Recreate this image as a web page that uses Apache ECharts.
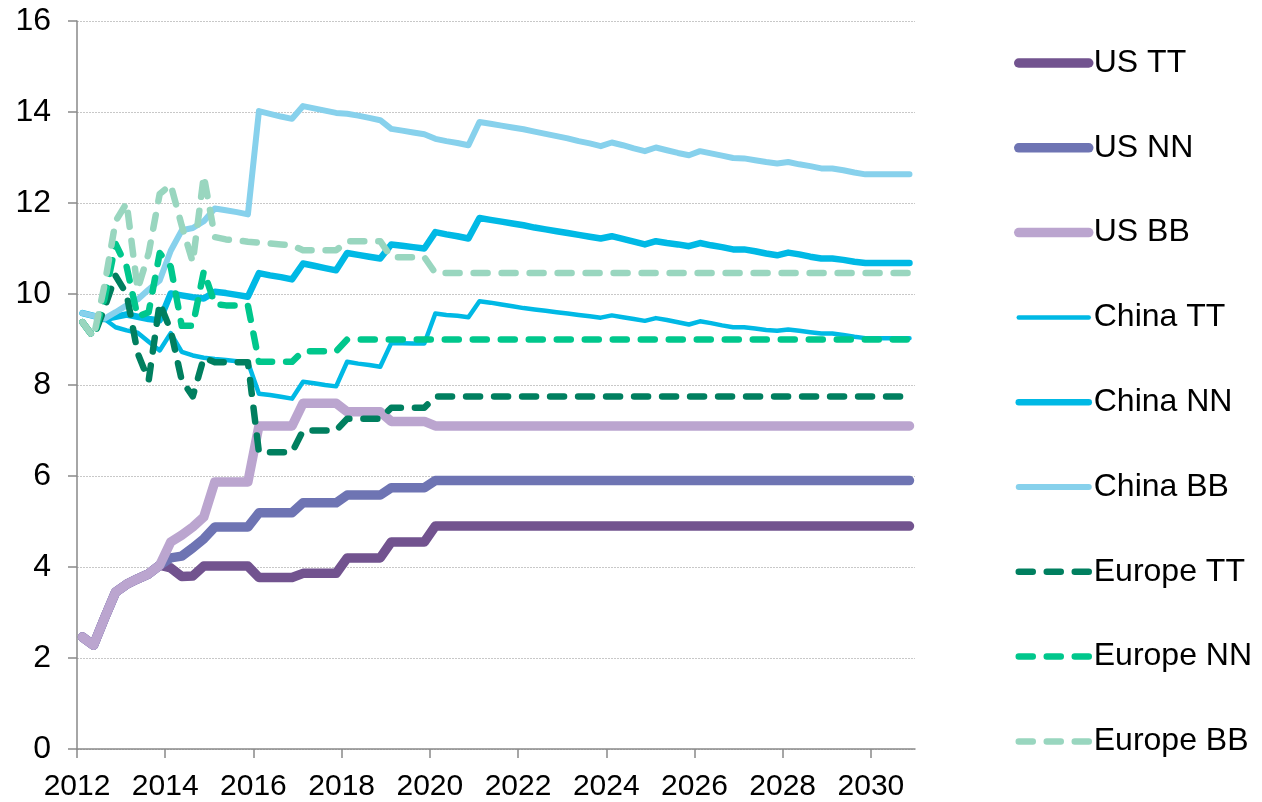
<!DOCTYPE html>
<html>
<head>
<meta charset="utf-8">
<script src="https://cdn.jsdelivr.net/npm/echarts@6/dist/echarts.min.js"></script>
<style>
  html, body { margin: 0; padding: 0; background: #fff; }
  #chart { width: 1262px; height: 802px; }
</style>
</head>
<body>
<div id="chart"></div>
<script>
// quarterly periods 2012Q1 .. 2030Q4
const years = [2012, 2013, 2014, 2015, 2016, 2017, 2018, 2019, 2020, 2021,
               2022, 2023, 2024, 2025, 2026, 2027, 2028, 2029, 2030];
const quarters = [];
years.forEach(y => { for (let q = 1; q <= 4; q++) quarters.push(y + 'Q' + q); });

const yearTicks = [2012, 2014, 2016, 2018, 2020, 2022, 2024, 2026, 2028, 2030];

const usTT = [
  2.46, 2.28, 2.88, 3.45, 3.62, 3.74, 3.85, 4.04,
  3.98, 3.79, 3.80, 4.02, 4.02, 4.02, 4.02, 4.02,
  3.77, 3.77, 3.77, 3.77, 3.86, 3.86, 3.86, 3.86,
  4.20, 4.20, 4.20, 4.20, 4.55, 4.55, 4.55, 4.55,
  4.90, 4.90, 4.90, 4.90, 4.90, 4.90, 4.90, 4.90,
  4.90, 4.90, 4.90, 4.90, 4.90, 4.90, 4.90, 4.90,
  4.90, 4.90, 4.90, 4.90, 4.90, 4.90, 4.90, 4.90,
  4.90, 4.90, 4.90, 4.90, 4.90, 4.90, 4.90, 4.90,
  4.90, 4.90, 4.90, 4.90, 4.90, 4.90, 4.90, 4.90,
  4.90, 4.90, 4.90, 4.90
];
const usNN = [
  2.46, 2.28, 2.88, 3.45, 3.62, 3.74, 3.85, 4.04,
  4.20, 4.24, 4.42, 4.62, 4.88, 4.88, 4.88, 4.88,
  5.19, 5.19, 5.19, 5.19, 5.41, 5.41, 5.41, 5.41,
  5.58, 5.58, 5.58, 5.58, 5.74, 5.74, 5.74, 5.74,
  5.90, 5.90, 5.90, 5.90, 5.90, 5.90, 5.90, 5.90,
  5.90, 5.90, 5.90, 5.90, 5.90, 5.90, 5.90, 5.90,
  5.90, 5.90, 5.90, 5.90, 5.90, 5.90, 5.90, 5.90,
  5.90, 5.90, 5.90, 5.90, 5.90, 5.90, 5.90, 5.90,
  5.90, 5.90, 5.90, 5.90, 5.90, 5.90, 5.90, 5.90,
  5.90, 5.90, 5.90, 5.90
];
const usBB = [
  2.46, 2.28, 2.88, 3.45, 3.62, 3.74, 3.85, 4.04,
  4.55, 4.70, 4.88, 5.10, 5.87, 5.87, 5.87, 5.87,
  7.10, 7.10, 7.10, 7.10, 7.60, 7.60, 7.60, 7.60,
  7.41, 7.41, 7.41, 7.41, 7.20, 7.20, 7.20, 7.20,
  7.10, 7.10, 7.10, 7.10, 7.10, 7.10, 7.10, 7.10,
  7.10, 7.10, 7.10, 7.10, 7.10, 7.10, 7.10, 7.10,
  7.10, 7.10, 7.10, 7.10, 7.10, 7.10, 7.10, 7.10,
  7.10, 7.10, 7.10, 7.10, 7.10, 7.10, 7.10, 7.10,
  7.10, 7.10, 7.10, 7.10, 7.10, 7.10, 7.10, 7.10,
  7.10, 7.10, 7.10, 7.10
];
const chinaTT = [
  9.58, 9.52, 9.45, 9.27, 9.20, 9.15, 8.95, 8.76,
  9.14, 8.73, 8.65, 8.60, 8.57, 8.55, 8.52, 8.50,
  7.81, 7.78, 7.74, 7.70, 8.07, 8.04, 8.00, 7.97,
  8.51, 8.47, 8.44, 8.40, 8.92, 8.92, 8.91, 8.91,
  9.57, 9.54, 9.52, 9.49, 9.84, 9.81, 9.77, 9.73,
  9.69, 9.66, 9.63, 9.60, 9.57, 9.54, 9.51, 9.48,
  9.53, 9.49, 9.45, 9.41, 9.47, 9.43, 9.38, 9.33,
  9.40, 9.36, 9.31, 9.27, 9.27, 9.24, 9.21, 9.19,
  9.22, 9.19, 9.16, 9.13, 9.13, 9.10, 9.06, 9.03,
  9.03, 9.03, 9.03, 9.03
];
const chinaNN = [
  9.58, 9.52, 9.45, 9.50, 9.55, 9.50, 9.45, 9.42,
  10.01, 9.97, 9.93, 9.90, 10.05, 10.02, 9.98, 9.94,
  10.46, 10.41, 10.37, 10.32, 10.67, 10.62, 10.57, 10.52,
  10.90, 10.86, 10.82, 10.78, 11.09, 11.06, 11.03, 11.00,
  11.36, 11.31, 11.27, 11.22, 11.67, 11.63, 11.59, 11.55,
  11.51, 11.46, 11.42, 11.38, 11.34, 11.30, 11.26, 11.22,
  11.27, 11.21, 11.15, 11.09, 11.16, 11.12, 11.09, 11.05,
  11.12, 11.07, 11.03, 10.98, 10.98, 10.94, 10.89, 10.85,
  10.91, 10.87, 10.82, 10.78, 10.78, 10.75, 10.71, 10.68,
  10.68, 10.68, 10.68, 10.68
];
const chinaBB = [
  9.58, 9.52, 9.46, 9.60, 9.75, 9.88, 10.10, 10.30,
  10.95, 11.40, 11.45, 11.60, 11.88, 11.84, 11.80, 11.75,
  14.02, 13.96, 13.90, 13.85, 14.13, 14.08, 14.03, 13.98,
  13.96, 13.92, 13.87, 13.82, 13.63, 13.59, 13.55, 13.51,
  13.41, 13.36, 13.32, 13.27, 13.78, 13.74, 13.70, 13.66,
  13.62, 13.57, 13.52, 13.47, 13.42, 13.36, 13.31, 13.25,
  13.33, 13.27, 13.20, 13.14, 13.22, 13.16, 13.10, 13.05,
  13.14, 13.09, 13.04, 12.99, 12.98, 12.94, 12.90, 12.87,
  12.90, 12.85, 12.81, 12.76, 12.76, 12.72, 12.67, 12.63,
  12.63, 12.63, 12.63, 12.63
];
const europeTT = [
  9.38, 9.05, 9.70, 10.40, 10.00, 8.70, 8.10, 9.80,
  9.20, 8.10, 7.75, 8.60, 8.50, 8.50, 8.50, 8.50,
  6.52, 6.52, 6.52, 6.52, 7.00, 7.00, 7.00, 7.00,
  7.26, 7.26, 7.26, 7.26, 7.50, 7.50, 7.50, 7.50,
  7.75, 7.75, 7.75, 7.75, 7.75, 7.75, 7.75, 7.75,
  7.75, 7.75, 7.75, 7.75, 7.75, 7.75, 7.75, 7.75,
  7.75, 7.75, 7.75, 7.75, 7.75, 7.75, 7.75, 7.75,
  7.75, 7.75, 7.75, 7.75, 7.75, 7.75, 7.75, 7.75,
  7.75, 7.75, 7.75, 7.75, 7.75, 7.75, 7.75, 7.75,
  7.75, 7.75, 7.75, 7.75
];
const europeNN = [
  9.38, 9.05, 9.90, 11.10, 10.60, 9.50, 9.60, 10.90,
  10.60, 9.30, 9.30, 10.50, 9.78, 9.75, 9.75, 9.75,
  8.51, 8.51, 8.51, 8.51, 8.74, 8.74, 8.74, 8.74,
  9.00, 9.00, 9.00, 9.00, 9.00, 9.00, 9.00, 9.00,
  9.00, 9.00, 9.00, 9.00, 9.00, 9.00, 9.00, 9.00,
  9.00, 9.00, 9.00, 9.00, 9.00, 9.00, 9.00, 9.00,
  9.00, 9.00, 9.00, 9.00, 9.00, 9.00, 9.00, 9.00,
  9.00, 9.00, 9.00, 9.00, 9.00, 9.00, 9.00, 9.00,
  9.00, 9.00, 9.00, 9.00, 9.00, 9.00, 9.00, 9.00,
  9.00, 9.00, 9.00, 9.00
];
const europeBB = [
  9.38, 9.05, 10.20, 11.60, 12.00, 10.10, 10.90, 12.20,
  12.40, 11.50, 10.70, 12.60, 11.25, 11.20, 11.18, 11.15,
  11.13, 11.11, 11.09, 11.07, 10.96, 10.96, 10.96, 10.96,
  11.16, 11.16, 11.16, 11.16, 10.81, 10.81, 10.81, 10.81,
  10.46, 10.46, 10.46, 10.46, 10.46, 10.46, 10.46, 10.46,
  10.46, 10.46, 10.46, 10.46, 10.46, 10.46, 10.46, 10.46,
  10.46, 10.46, 10.46, 10.46, 10.46, 10.46, 10.46, 10.46,
  10.46, 10.46, 10.46, 10.46, 10.46, 10.46, 10.46, 10.46,
  10.46, 10.46, 10.46, 10.46, 10.46, 10.46, 10.46, 10.46,
  10.46, 10.46, 10.46, 10.46
];

// quarter -> position on the year axis (middle of the quarter)
function qx(label) {
  const y = parseInt(label.slice(0, 4), 10);
  const q = parseInt(label.slice(5), 10);
  return y + (q - 0.5) / 4;
}
function toPoints(values) {
  return values.map((v, i) => [qx(quarters[i]), v]);
}

const dash = [14, 14];
const lines = [
  { name: 'US TT', data: usTT, color: '#72538F', width: 9.5 },
  { name: 'US NN', data: usNN, color: '#6E74B3', width: 9.5 },
  { name: 'US BB', data: usBB, color: '#BBA5CF', width: 9.5 },
  { name: 'China TT', data: chinaTT, color: '#00B9E5', width: 4.5 },
  { name: 'China NN', data: chinaNN, color: '#00B9E5', width: 6.5 },
  { name: 'China BB', data: chinaBB, color: '#87D1EC', width: 6 },
  { name: 'Europe TT', data: europeTT, color: '#007F5F', width: 6.5, dash: true },
  { name: 'Europe NN', data: europeNN, color: '#00C78C', width: 6.5, dash: true },
  { name: 'Europe BB', data: europeBB, color: '#99D6BF', width: 6.5, dash: true }
];

const axisColor = '#898989';
const labelFont = "'Liberation Sans', Arial, sans-serif";
const myChart = echarts.init(document.getElementById('chart'));

const option = {
  animation: false,
  backgroundColor: '#ffffff',
  grid: { left: 77, right: 347, top: 21, bottom: 53 },
  legend: {
    orient: 'vertical',
    left: 1009,
    top: 42,
    itemWidth: 70,
    itemHeight: 14,
    itemGap: 52.8,
    itemStyle: { opacity: 0 },
    textStyle: { fontFamily: labelFont, fontSize: 32, color: '#000', lineHeight: 32 },
    data: lines.map(l => ({
      name: l.name,
      lineStyle: { color: l.color, width: l.width, type: l.dash ? dash : 'solid', cap: 'round' }
    }))
  },
  xAxis: {
    type: 'value',
    min: 2012,
    max: 2031,
    splitLine: { show: false },
    axisLine: { lineStyle: { color: axisColor, width: 1.5 } },
    axisTick: { show: true, length: 9, customValues: yearTicks, lineStyle: { color: axisColor, width: 1.5 } },
    axisLabel: {
      customValues: yearTicks,
      formatter: v => String(v),
      margin: 23,
      fontFamily: labelFont,
      fontSize: 30,
      color: '#000'
    }
  },
  yAxis: {
    type: 'value',
    min: 0,
    max: 16,
    interval: 2,
    axisLine: { show: true, lineStyle: { color: axisColor, width: 1.5 } },
    axisTick: { show: true, length: 9, lineStyle: { color: axisColor, width: 1.5 } },
    splitLine: { show: true, lineStyle: { color: '#C8C8C8', width: 1, type: [2, 1] } },
    axisLabel: {
      margin: 26,
      fontFamily: labelFont,
      fontSize: 32,
      color: '#000'
    }
  },
  series: lines.map(l => ({
    name: l.name,
    type: 'line',
    data: toPoints(l.data),
    symbol: 'none',
    showSymbol: false,
    color: l.color,
    lineStyle: {
      color: l.color,
      width: l.width,
      type: l.dash ? dash : 'solid',
      cap: 'round',
      join: 'round'
    },
    emphasis: { disabled: true }
  }))
};

myChart.setOption(option);
window.addEventListener('resize', () => myChart.resize());
</script>
</body>
</html>
